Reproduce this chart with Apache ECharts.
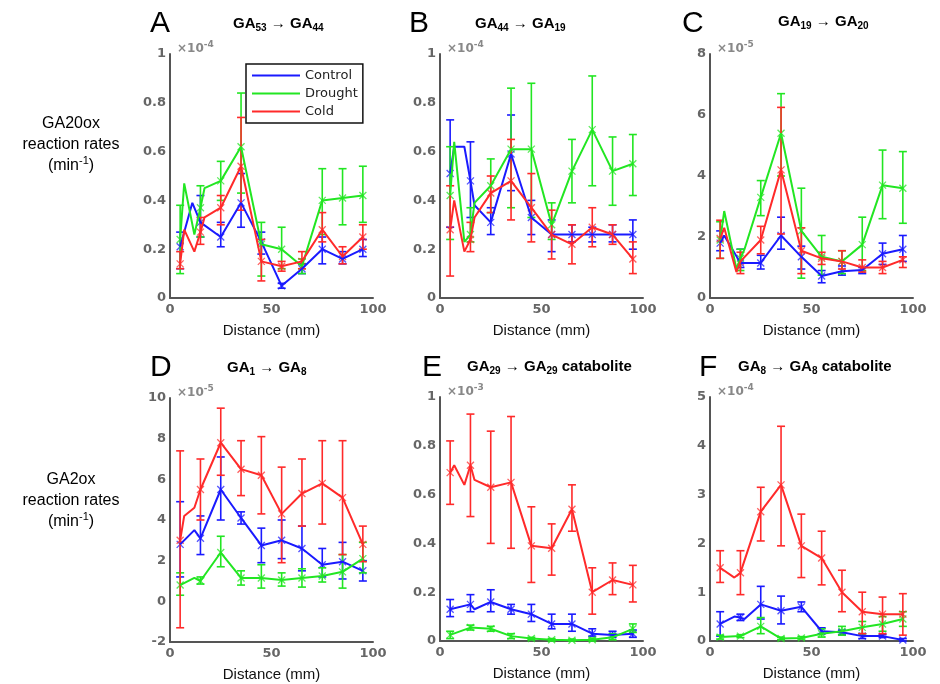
<!DOCTYPE html>
<html><head><meta charset="utf-8">
<script src="https://cdn.jsdelivr.net/npm/echarts@6/dist/echarts.min.js"></script>
<style>html,body{margin:0;padding:0;background:#fff}#c{width:940px;height:684px}</style>
</head><body><div id="c"></div>
<script>
// ---------- data ----------
const X = [5, 15, 25, 35, 45, 55, 65, 75, 85, 95];
const xTicks = [0, 50, 100];
const seriesNames = ['Control', 'Drought', 'Cold'];

// Panel A: GA53 -> GA44 (x1e-4)
const A_control = [0.21, 0.31, 0.25, 0.39, 0.23, 0.05, 0.12, 0.20, 0.16, 0.20];
const A_control_lo = [0.12, 0.25, 0.21, 0.29, 0.18, 0.04, 0.10, 0.14, 0.14, 0.17];
const A_control_hi = [0.27, 0.42, 0.31, 0.51, 0.27, 0.06, 0.14, 0.25, 0.19, 0.24];
const A_control_kinks = [[11, 0.39]];
const A_drought = [0.24, 0.37, 0.48, 0.62, 0.22, 0.20, 0.13, 0.40, 0.41, 0.42];
const A_drought_lo = [0.10, 0.25, 0.40, 0.43, 0.09, 0.12, 0.10, 0.26, 0.30, 0.31];
const A_drought_hi = [0.38, 0.46, 0.56, 0.84, 0.31, 0.29, 0.16, 0.53, 0.53, 0.54];
const A_drought_kinks = [[7, 0.47], [12, 0.26], [17, 0.45]];
const A_cold = [0.14, 0.27, 0.37, 0.54, 0.15, 0.13, 0.15, 0.28, 0.17, 0.25];
const A_cold_lo = [0.12, 0.22, 0.30, 0.36, 0.07, 0.11, 0.12, 0.23, 0.14, 0.20];
const A_cold_hi = [0.19, 0.33, 0.42, 0.74, 0.24, 0.15, 0.19, 0.35, 0.21, 0.30];
const A_cold_kinks = [[7, 0.28], [12, 0.19], [17, 0.33]];

// Panel B: GA44 -> GA19 (x1e-4)
const B_control = [0.51, 0.48, 0.31, 0.59, 0.33, 0.26, 0.26, 0.26, 0.26, 0.26];
const B_control_lo = [0.29, 0.33, 0.26, 0.44, 0.26, 0.19, 0.23, 0.23, 0.23, 0.20];
const B_control_hi = [0.73, 0.64, 0.37, 0.75, 0.40, 0.32, 0.30, 0.29, 0.30, 0.32];
const B_control_kinks = [[7, 0.62], [12, 0.62], [17, 0.38]];
const B_drought = [0.42, 0.26, 0.46, 0.61, 0.61, 0.30, 0.52, 0.69, 0.52, 0.55];
const B_drought_lo = [0.24, 0.23, 0.35, 0.37, 0.33, 0.24, 0.39, 0.46, 0.38, 0.42];
const B_drought_hi = [0.62, 0.37, 0.57, 0.86, 0.88, 0.39, 0.65, 0.91, 0.66, 0.67];
const B_drought_kinks = [[7, 0.64], [12, 0.23], [17, 0.39]];
const B_cold = [0.28, 0.24, 0.43, 0.48, 0.37, 0.26, 0.22, 0.29, 0.26, 0.16];
const B_cold_lo = [0.09, 0.19, 0.35, 0.32, 0.23, 0.16, 0.14, 0.21, 0.22, 0.10];
const B_cold_hi = [0.46, 0.31, 0.50, 0.65, 0.51, 0.36, 0.30, 0.37, 0.30, 0.23];
const B_cold_kinks = [[7, 0.40], [12, 0.19], [17, 0.33]];

// Panel C: GA19 -> GA20 (x1e-5)
const C_control = [1.8, 1.15, 1.15, 2.05, 1.35, 0.72, 0.88, 0.92, 1.45, 1.6];
const C_control_lo = [1.55, 1.0, 0.95, 1.6, 0.95, 0.5, 0.75, 0.8, 1.1, 1.2];
const C_control_hi = [2.2, 1.6, 1.4, 2.65, 1.7, 0.9, 1.05, 1.0, 1.8, 2.05];
const C_control_kinks = [[7, 2.05]];
const C_drought = [1.9, 1.3, 3.3, 5.4, 2.2, 1.35, 1.2, 1.75, 3.7, 3.6];
const C_drought_lo = [1.3, 0.9, 2.7, 4.0, 0.65, 0.75, 0.8, 0.9, 2.6, 2.45];
const C_drought_hi = [2.5, 1.6, 3.85, 6.7, 3.6, 2.05, 1.55, 2.65, 4.85, 4.8];
const C_drought_kinks = [[7, 2.85], [13, 0.95], [17, 1.6]];
const C_cold = [1.95, 1.2, 1.9, 4.2, 1.55, 1.3, 1.2, 1.0, 1.0, 1.25];
const C_cold_lo = [1.3, 0.8, 1.45, 2.1, 0.8, 1.1, 0.95, 0.85, 0.8, 1.0];
const C_cold_hi = [2.55, 1.5, 2.35, 6.25, 2.3, 1.5, 1.55, 1.25, 1.2, 1.35];
const C_cold_kinks = [[7, 2.3], [13, 0.85]];

// Panel D: GA1 -> GA8 (x1e-5)
const D_control = [2.8, 3.1, 5.5, 4.1, 2.75, 3.0, 2.6, 1.8, 1.95, 1.5];
const D_control_lo = [1.2, 2.3, 4.0, 3.8, 1.9, 2.1, 1.5, 1.2, 1.1, 1.0];
const D_control_hi = [4.9, 4.2, 7.1, 4.4, 3.6, 4.0, 3.7, 2.6, 2.9, 2.0];
const D_control_kinks = [[12, 3.5]];
const D_drought = [0.8, 1.0, 2.4, 1.15, 1.15, 1.05, 1.15, 1.25, 1.45, 2.1];
const D_drought_lo = [0.3, 0.85, 1.7, 0.8, 0.65, 0.75, 0.7, 0.95, 0.65, 1.4];
const D_drought_hi = [1.4, 1.2, 3.2, 1.5, 1.8, 1.4, 1.6, 1.65, 2.3, 2.9];
const D_drought_kinks = [[12, 1.15]];
const D_cold = [3.0, 5.5, 7.8, 6.5, 6.2, 4.3, 5.3, 5.8, 5.1, 2.8];
const D_cold_lo = [-1.3, 4.0, 6.2, 5.2, 4.3, 1.9, 3.7, 3.8, 2.3, 1.95];
const D_cold_hi = [7.4, 7.0, 9.5, 7.9, 8.1, 6.6, 7.0, 7.9, 7.9, 3.7];
const D_cold_kinks = [[7, 4.2], [12, 4.6]];

// Panel E: GA29 -> GA29 catabolite (x1e-3)
const E_control = [0.13, 0.15, 0.16, 0.13, 0.11, 0.07, 0.07, 0.03, 0.025, 0.03];
const E_control_lo = [0.10, 0.12, 0.12, 0.11, 0.08, 0.05, 0.04, 0.02, 0.015, 0.015];
const E_control_hi = [0.17, 0.19, 0.21, 0.15, 0.15, 0.11, 0.11, 0.05, 0.04, 0.045];
const E_control_kinks = [[17, 0.13]];
const E_drought = [0.025, 0.055, 0.05, 0.02, 0.01, 0.005, 0.003, 0.005, 0.015, 0.05];
const E_drought_lo = [0.01, 0.045, 0.04, 0.01, 0.005, 0.0, 0.0, 0.0, 0.005, 0.035];
const E_drought_hi = [0.04, 0.065, 0.06, 0.03, 0.015, 0.01, 0.008, 0.012, 0.03, 0.07];
const E_drought_kinks = [];
const E_cold = [0.69, 0.72, 0.63, 0.65, 0.39, 0.38, 0.54, 0.20, 0.25, 0.23];
const E_cold_lo = [0.56, 0.51, 0.40, 0.38, 0.24, 0.27, 0.45, 0.11, 0.19, 0.16];
const E_cold_hi = [0.82, 0.93, 0.86, 0.92, 0.55, 0.48, 0.64, 0.30, 0.32, 0.31];
const E_cold_kinks = [[7, 0.72], [12, 0.64], [17, 0.66]];

// Panel F: GA8 -> GA8 catabolite (x1e-4)
const F_control = [0.35, 0.48, 0.75, 0.62, 0.70, 0.20, 0.18, 0.10, 0.10, 0.02];
const F_control_lo = [0.10, 0.42, 0.45, 0.35, 0.60, 0.15, 0.13, 0.05, 0.07, 0.0];
const F_control_hi = [0.60, 0.55, 1.12, 0.92, 0.80, 0.27, 0.22, 0.15, 0.13, 0.05];
const F_control_kinks = [[12, 0.5], [17, 0.45]];
const F_drought = [0.08, 0.10, 0.30, 0.05, 0.06, 0.15, 0.20, 0.28, 0.35, 0.45];
const F_drought_lo = [0.04, 0.07, 0.15, 0.03, 0.04, 0.08, 0.12, 0.15, 0.20, 0.30];
const F_drought_hi = [0.12, 0.13, 0.48, 0.08, 0.09, 0.25, 0.30, 0.40, 0.50, 0.60];
const F_drought_kinks = [];
const F_cold = [1.5, 1.4, 2.65, 3.2, 1.95, 1.7, 1.0, 0.6, 0.55, 0.55];
const F_cold_lo = [1.2, 0.95, 2.05, 1.95, 1.3, 1.15, 0.6, 0.15, 0.15, 0.12];
const F_cold_hi = [1.85, 1.85, 3.15, 4.4, 2.6, 2.25, 1.45, 1.0, 0.9, 0.97];
const F_cold_kinks = [[12, 1.3]];

// axis settings per panel: [min, max, interval, exponent]
const A_yAxis = [0, 1, 0.2, '-4'];
const B_yAxis = [0, 1, 0.2, '-4'];
const C_yAxis = [0, 8, 2, '-5'];
const D_yAxis = [-2, 10, 2, '-5'];
const E_yAxis = [0, 1, 0.2, '-3'];
const F_yAxis = [0, 5, 1, '-4'];

// ---------- build ----------
const COLORS = {Control: '#1a1aff', Drought: '#22e622', Cold: '#ff2a2a'};
const panels = [
  {id: 'A', ax: A_yAxis, s: [[A_control, A_control_lo, A_control_hi, A_control_kinks], [A_drought, A_drought_lo, A_drought_hi, A_drought_kinks], [A_cold, A_cold_lo, A_cold_hi, A_cold_kinks]]},
  {id: 'B', ax: B_yAxis, s: [[B_control, B_control_lo, B_control_hi, B_control_kinks], [B_drought, B_drought_lo, B_drought_hi, B_drought_kinks], [B_cold, B_cold_lo, B_cold_hi, B_cold_kinks]]},
  {id: 'C', ax: C_yAxis, s: [[C_control, C_control_lo, C_control_hi, C_control_kinks], [C_drought, C_drought_lo, C_drought_hi, C_drought_kinks], [C_cold, C_cold_lo, C_cold_hi, C_cold_kinks]]},
  {id: 'D', ax: D_yAxis, s: [[D_control, D_control_lo, D_control_hi, D_control_kinks], [D_drought, D_drought_lo, D_drought_hi, D_drought_kinks], [D_cold, D_cold_lo, D_cold_hi, D_cold_kinks]]},
  {id: 'E', ax: E_yAxis, s: [[E_control, E_control_lo, E_control_hi, E_control_kinks], [E_drought, E_drought_lo, E_drought_hi, E_drought_kinks], [E_cold, E_cold_lo, E_cold_hi, E_cold_kinks]]},
  {id: 'F', ax: F_yAxis, s: [[F_control, F_control_lo, F_control_hi, F_control_kinks], [F_drought, F_drought_lo, F_drought_hi, F_drought_kinks], [F_cold, F_cold_lo, F_cold_hi, F_cold_kinks]]}
];
const gridPos = [
  {left: 170, top: 54}, {left: 440, top: 54}, {left: 710, top: 54},
  {left: 170, top: 398}, {left: 440, top: 397}, {left: 710, top: 397}
];
const GW = 203, GH = 244;

const grids = [], xAxes = [], yAxes = [], series = [], titles = [];
function errRender(color) {
  return function (params, api) {
    const x = api.value(0);
    const pm = api.coord([x, api.value(1)]);
    const pl = api.coord([x, api.value(2)]);
    const ph = api.coord([x, api.value(3)]);
    const w = 4, s = 3.5;
    const st = {stroke: color, lineWidth: 1.6};
    return {type: 'group', children: [
      {type: 'line', shape: {x1: pl[0], y1: pl[1], x2: ph[0], y2: ph[1]}, style: st},
      {type: 'line', shape: {x1: pl[0] - w, y1: pl[1], x2: pl[0] + w, y2: pl[1]}, style: st},
      {type: 'line', shape: {x1: ph[0] - w, y1: ph[1], x2: ph[0] + w, y2: ph[1]}, style: st},
      {type: 'line', shape: {x1: pm[0] - s, y1: pm[1] - s, x2: pm[0] + s, y2: pm[1] + s}, style: {stroke: color, lineWidth: 1.3, opacity: 0.75}},
      {type: 'line', shape: {x1: pm[0] - s, y1: pm[1] + s, x2: pm[0] + s, y2: pm[1] - s}, style: {stroke: color, lineWidth: 1.3, opacity: 0.75}}
    ]};
  };
}
panels.forEach((p, i) => {
  const g = gridPos[i];
  grids.push({left: g.left, top: g.top, width: GW, height: GH, containLabel: false});
  xAxes.push({
    gridIndex: i, type: 'value', min: 0, max: 100, interval: 50,
    name: 'Distance (mm)', nameLocation: 'middle', nameGap: 25,
    nameTextStyle: {color: '#111', fontSize: 15, fontFamily: 'Liberation Sans'},
    axisLine: {onZero: false, lineStyle: {color: '#555', width: 2}},
    axisTick: {show: false}, splitLine: {show: false},
    axisLabel: {color: '#666', fontSize: 13, fontWeight: 'bold', fontFamily: 'DejaVu Sans', margin: 5}
  });
  yAxes.push({
    gridIndex: i, type: 'value', min: p.ax[0], max: p.ax[1], interval: p.ax[2],
    axisLine: {show: true, onZero: false, lineStyle: {color: '#555', width: 2}},
    axisTick: {show: false}, splitLine: {show: false},
    axisLabel: {color: '#666', fontSize: 13, fontWeight: 'bold', fontFamily: 'DejaVu Sans', margin: 4}
  });
  titles.push({
    text: '×10{e|' + p.ax[3] + '}', left: g.left + 2, top: g.top - 19,
    textStyle: {color: '#888', fontSize: 12, fontWeight: 'bold', fontFamily: 'DejaVu Sans',
      rich: {e: {fontSize: 9, fontWeight: 'bold', color: '#888', verticalAlign: 'top', padding: [0, 0, 8, 0]}}}
  });
  p.s.forEach((sd, k) => {
    const name = seriesNames[k];
    const color = COLORS[name];
    const mean = sd[0], lo = sd[1], hi = sd[2], kinks = sd[3];
    const pts = X.map((x, j) => [x, mean[j]]).concat(kinks).sort((a, b) => a[0] - b[0]);
    series.push({
      type: 'line', name: name, xAxisIndex: i, yAxisIndex: i, data: pts,
      symbol: 'none', lineStyle: {color: color, width: 2}, itemStyle: {color: color},
      z: 3, animation: false
    });
    series.push({
      type: 'custom', name: name + ' err', xAxisIndex: i, yAxisIndex: i,
      data: X.map((x, j) => [x, mean[j], lo[j], hi[j]]),
      renderItem: errRender(color), z: 2, animation: false
    });
  });
});

// panel letters and reaction titles
const letterStyle = {color: '#000', fontSize: 30, fontFamily: 'Liberation Sans', fontWeight: 'normal'};
const rich = {
  n: {fontSize: 15, fontWeight: 'bold', fontFamily: 'Liberation Sans', color: '#000'},
  s: {fontSize: 10, fontWeight: 'bold', fontFamily: 'Liberation Sans', color: '#000', verticalAlign: 'bottom', padding: [9, 0, 0, 0]}
};
const heads = [
  ['A', 145, 4, '{n|GA}{s|53}{n| → GA}{s|44}', 228, 9],
  ['B', 404, 4, '{n|GA}{s|44}{n| → GA}{s|19}', 470, 9],
  ['C', 677, 4, '{n|GA}{s|19}{n| → GA}{s|20}', 773, 7],
  ['D', 145, 348, '{n|GA}{s|1}{n| → GA}{s|8}', 222, 353],
  ['E', 417, 348, '{n|GA}{s|29}{n| → GA}{s|29}{n| catabolite}', 462, 352],
  ['F', 694, 348, '{n|GA}{s|8}{n| → GA}{s|8}{n| catabolite}', 733, 352]
];
heads.forEach(h => {
  titles.push({text: h[0], left: h[1], top: h[2], textStyle: letterStyle});
  titles.push({text: h[3], left: h[4], top: h[5], textStyle: {rich: rich}});
});
const sideStyle = {color: '#000', fontSize: 16, fontFamily: 'Liberation Sans', fontWeight: 'normal', lineHeight: 21,
  rich: {n: {fontSize: 16, fontFamily: 'Liberation Sans', color: '#000', lineHeight: 21},
         e: {fontSize: 11, fontFamily: 'Liberation Sans', color: '#000', verticalAlign: 'top', lineHeight: 21}}};
titles.push({text: 'GA20ox\nreaction rates\n{n|(min}{e|-1}{n|)}', left: 66, top: 108, textAlign: 'center', textStyle: sideStyle});
titles.push({text: 'GA2ox\nreaction rates\n{n|(min}{e|-1}{n|)}', left: 66, top: 464, textAlign: 'center', textStyle: sideStyle});

const chart = echarts.init(document.getElementById('c'), null, {renderer: 'canvas'});
chart.setOption({
  animation: false,
  backgroundColor: '#fff',
  title: titles,
  grid: grids, xAxis: xAxes, yAxis: yAxes, series: series,
  legend: {
    data: seriesNames.map(n => ({name: n, icon: 'rect', itemStyle: {color: COLORS[n]}})),
    orient: 'vertical', left: 246, top: 64,
    backgroundColor: '#fff', borderColor: '#111', borderWidth: 1.5,
    padding: [3, 5, 3, 6], itemGap: 1, itemWidth: 48, itemHeight: 2,
    textStyle: {color: '#222', fontSize: 13, fontFamily: 'DejaVu Sans', lineHeight: 17},
    selectedMode: false
  }
});
</script></body></html>
